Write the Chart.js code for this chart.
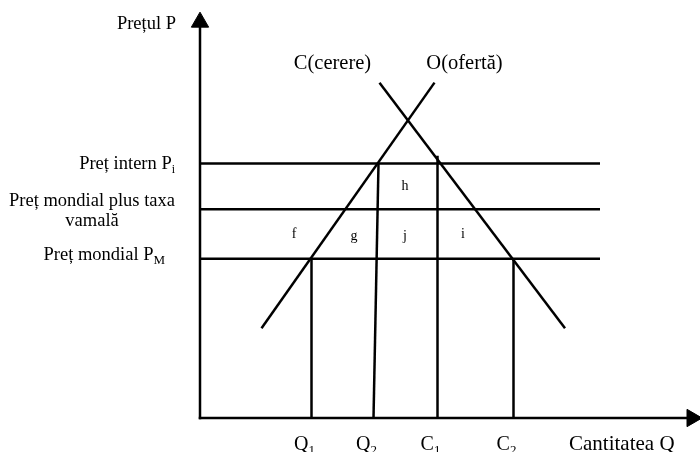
<!DOCTYPE html>
<html>
<head>
<meta charset="utf-8">
<script src="https://cdn.jsdelivr.net/npm/chart.js@4.4.1/dist/chart.umd.min.js"></script>
<style>
  html, body { margin: 0; padding: 0; background: #fff; }
  canvas { display: block; }
</style>
</head>
<body>
<canvas id="grafic" width="700" height="452"></canvas>
<script>
// niveluri de pret pe axa Y (scala 0-100)
var pretIntern = 62.7;
var pretTaxa = 51.4;
var pretMondial = 39.2;
var capatLinii = 80;      // unde se opresc liniile orizontale

// curba ofertei si curba cererii
var ofertaX = [12.3, 46.9];
var ofertaY = [22.1, 82.6];
var cerereX = [35.9, 73.0];
var cerereY = [82.6, 22.1];

// cantitatile de pe axa X
var cantNume = ['Q', 'Q', 'C', 'C'];
var cantIndice = ['1', '2', '1', '2'];
var cantJos = [22.3, 34.7, 47.5, 62.7];
var cantSus = [22.3, 35.7, 47.5, 62.7];
var cantVarf = [39.2, 62.7, 64.6, 39.2];

// zonele marcate cu litere
var zone = ['f', 'g', 'h', 'i', 'j'];
var zoneX = [18.8, 30.8, 41.0, 52.6, 41.0];
var zoneY = [44.3, 43.8, 56.2, 44.3, 43.8];

// capetele axelor (sageti)
var axaYMax = 97.5;
var axaXMax = 98.4;

var FONT = '"Liberation Serif", "Times New Roman", serif';

function linie(xs, ys, extra) {
    var puncte = [];
    for (var i = 0; i < xs.length; i++) {
        puncte.push({x: xs[i], y: ys[i]});
    }
    var ds = {
        data: puncte,
        showLine: true,
        borderColor: '#000',
        borderWidth: 2.5,
        pointRadius: 0,
        clip: false
    };
    if (extra) {
        for (var k in extra) ds[k] = extra[k];
    }
    return ds;
}

var seturi = [];
// axele cu sageti
seturi.push(linie([0, 0], [0, axaYMax], {
    borderCapStyle: 'square',
    pointRadius: [0, 10],
    pointStyle: 'triangle',
    pointBackgroundColor: '#000',
    pointBorderColor: '#000',
    pointBorderWidth: 1
}));
seturi.push(linie([0, axaXMax], [0, 0], {
    borderCapStyle: 'square',
    pointRadius: [0, 10],
    pointStyle: 'triangle',
    pointRotation: 90,
    pointBackgroundColor: '#000',
    pointBorderColor: '#000',
    pointBorderWidth: 1
}));
// liniile de pret
[pretIntern, pretTaxa, pretMondial].forEach(function (p) {
    seturi.push(linie([0, capatLinii], [p, p]));
});
// oferta si cererea
seturi.push(linie(ofertaX, ofertaY));
seturi.push(linie(cerereX, cerereY));
// verticalele
for (var i = 0; i < cantJos.length; i++) {
    seturi.push(linie([cantJos[i], cantSus[i]], [0, cantVarf[i]]));
}

// text cu indice (P_i, Q_1 ...)
function scrieIndice(ctx, text, indice, x, y, marime, marimeIndice, aliniere) {
    ctx.font = marime + 'px ' + FONT;
    var w1 = ctx.measureText(text).width;
    ctx.font = marimeIndice + 'px ' + FONT;
    var w2 = ctx.measureText(indice).width;
    var start = x;
    if (aliniere === 'right') start = x - w1 - w2;
    if (aliniere === 'center') start = x - (w1 + w2) / 2;
    ctx.textAlign = 'left';
    ctx.font = marime + 'px ' + FONT;
    ctx.fillText(text, start, y);
    ctx.font = marimeIndice + 'px ' + FONT;
    ctx.fillText(indice, start + w1, y + 4);
}

var eticheteText = {
    id: 'eticheteText',
    afterDraw: function (chart) {
        var ctx = chart.ctx;
        var sx = chart.scales.x;
        var sy = chart.scales.y;
        var x0 = sx.getPixelForValue(0);
        var y0 = sy.getPixelForValue(0);
        ctx.save();
        ctx.fillStyle = '#000';
        ctx.textBaseline = 'alphabetic';

        // titlul axei Y
        ctx.font = '18.5px ' + FONT;
        ctx.textAlign = 'right';
        ctx.fillText('Prețul P', x0 - 24, sy.top + 17);

        // etichetele preturilor
        scrieIndice(ctx, 'Preț intern P', 'i', x0 - 25, sy.getPixelForValue(pretIntern) + 6, 18.5, 12, 'right');

        var yt = sy.getPixelForValue(pretTaxa);
        ctx.font = '18.5px ' + FONT;
        ctx.textAlign = 'right';
        var rand1 = 'Preț mondial plus taxa';
        var w = ctx.measureText(rand1).width;
        ctx.fillText(rand1, x0 - 25, yt - 3);
        ctx.textAlign = 'center';
        ctx.fillText('vamală', x0 - 25 - w / 2, yt + 17);

        scrieIndice(ctx, 'Preț mondial P', 'M', x0 - 35, sy.getPixelForValue(pretMondial) + 1, 18.5, 13, 'right');

        // numele curbelor
        ctx.font = '20.5px ' + FONT;
        ctx.textAlign = 'center';
        ctx.fillText('C(cerere)', sx.getPixelForValue(26.5), sy.getPixelForValue(86.0));
        ctx.fillText('O(ofertă)', sx.getPixelForValue(52.9), sy.getPixelForValue(86.0));

        // zonele
        ctx.font = '14px ' + FONT;
        ctx.textAlign = 'center';
        for (var i = 0; i < zone.length; i++) {
            ctx.fillText(zone[i], sx.getPixelForValue(zoneX[i]), sy.getPixelForValue(zoneY[i]));
        }

        // cantitatile sub axa X
        for (var j = 0; j < cantNume.length; j++) {
            scrieIndice(ctx, cantNume[j], cantIndice[j], sx.getPixelForValue(cantJos[j]) - 7, y0 + 32, 20, 13, 'center');
        }

        // titlul axei X
        ctx.font = '21px ' + FONT;
        ctx.textAlign = 'left';
        ctx.fillText('Cantitatea Q', sx.getPixelForValue(73.8), y0 + 32);

        ctx.restore();
    }
};

new Chart(document.getElementById('grafic').getContext('2d'), {
    type: 'scatter',
    data: {datasets: seturi},
    options: {
        responsive: false,
        animation: false,
        events: [],
        layout: {autoPadding: false, padding: {left: 200, right: 0, top: 12, bottom: 34}},
        scales: {
            x: {type: 'linear', min: 0, max: 100, display: false},
            y: {type: 'linear', min: 0, max: 100, display: false}
        },
        plugins: {
            legend: {display: false},
            tooltip: {enabled: false}
        }
    },
    plugins: [eticheteText]
});
</script>
</body>
</html>
